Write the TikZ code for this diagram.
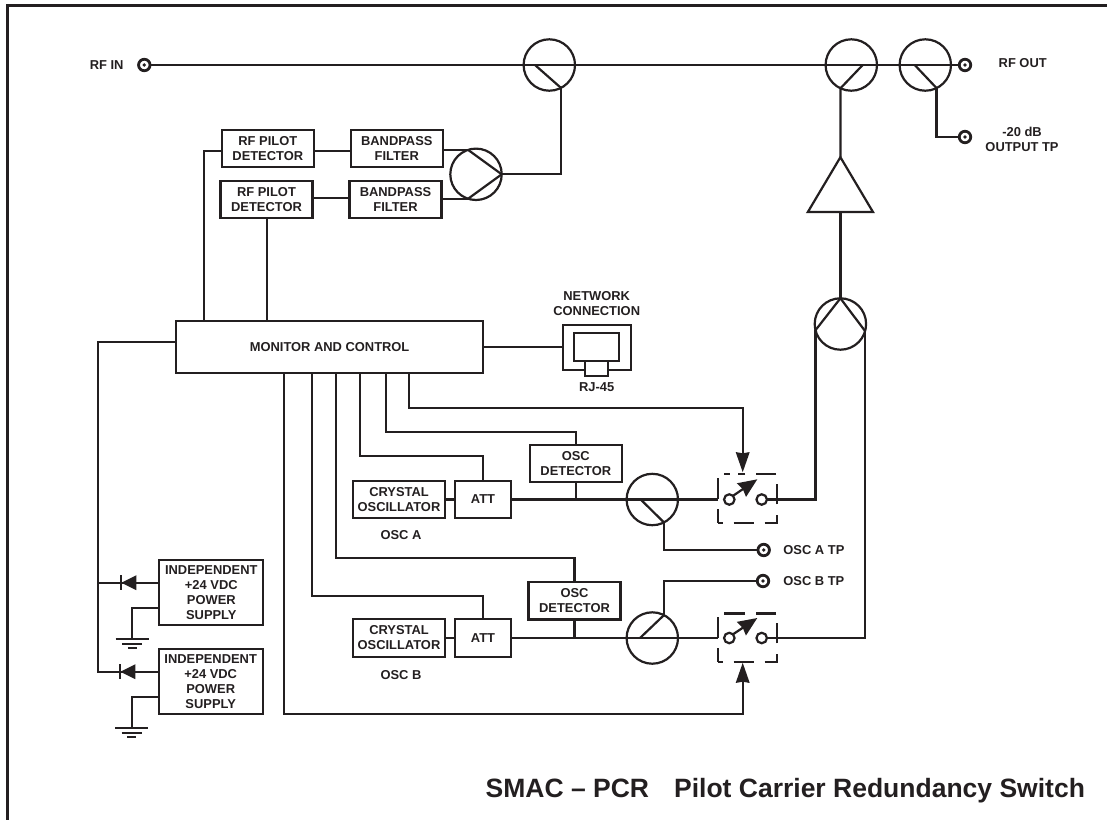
\documentclass[tikz,border=0pt]{standalone}
\usepackage{fontspec}
\setmainfont{Liberation Sans}
\usetikzlibrary{arrows.meta, positioning, shapes.geometric, calc}
\definecolor{smacdark}{RGB}{35, 31, 32}

\begin{document}
\begin{tikzpicture}[x=1pt, y=-1pt, line width=2.2pt, color=smacdark,
        node distance=37pt,
        every node/.style={font=\bfseries\fontsize{12.9}{15}\selectfont, align=center, inner sep=0pt, outer sep=0pt},
        box/.style={draw, minimum width=92pt, minimum height=37.3pt},
        supply/.style={draw, minimum width=104pt, minimum height=65.3pt},
        coupler/.style={draw, circle, minimum size=51.4pt},
        jack/.style={draw, circle, line width=2.8pt, minimum size=11.5pt,
          path picture={\fill (path picture bounding box.center) circle (1.9pt);}},
        terminal/.style={draw, circle, minimum size=10.5pt},
        swbox/.style={draw, minimum width=59.6pt, minimum height=48.4pt, dash pattern=on 20.7pt off 10.4pt, dash phase=15.3pt},
        diode/.style={fill, isosceles triangle, isosceles triangle stretches, shape border rotate=180, minimum width=15pt, minimum height=15pt},
        amp/.style={draw, isosceles triangle, isosceles triangle stretches, shape border rotate=90, minimum width=65pt, minimum height=54.7pt},
        arr/.style={-{Stealth[length=20pt, width=13.5pt, inset=1pt]}},
        swarr/.style={-{Stealth[length=19pt, width=16pt, inset=1.5pt]}}
      ]
        \useasboundingbox (0,0) rectangle (1107,820);
        \draw[line width=3pt] (1107,5.5) -- (7.5,5.5) -- (7.5,820);

        % top line
        \node[jack] (rfin) at (144.3,65) {};
        \node (rfinlbl) at (106.7,65) {RF IN};
        \node[jack] (rfout) at (965,65) {};
        \node (rfoutlbl) at (1022.7,63.5) {RF OUT};
        \node[jack] (tpout) at (965,137) {};
        \node (tpoutlbl) at (1022,139) {-20 dB\\OUTPUT TP};
        \node[coupler] (cplin) at (549.3,65) {};
        \node[coupler] (cplsum) at (851.3,65) {};
        \node[coupler] (cplout) at (925.3,65) {};
        \draw (rfin.east) -- (rfout.west);
        \draw ($(cplin.center)+(-14.3,0)$) -- (cplin.-63);
        \draw ($(cplsum.center)+(11.4,0)$) -- (cplsum.-115);
        \draw ($(cplout.center)+(-10.6,0)$) -- (cplout.-64);
        \draw (cplout.-64) |- (tpout.west);

        % pilot detectors
        \node[coupler] (cplsplit) at (476,174.3) {};
        \node[box] (pilota) at (267.8,148.7) {RF PILOT\\DETECTOR};
        \node[box] (pilotb) at (266.5,199.7) {RF PILOT\\DETECTOR};
        \node[box, right=37pt of pilota] (bpfa) {BANDPASS\\FILTER};
        \node[box, right=37pt of pilotb] (bpfb) {BANDPASS\\FILTER};
        \draw (cplin.-63) |- (cplsplit.east);
        \draw (cplsplit.east) -- (cplsplit.108);
        \draw (cplsplit.east) -- (cplsplit.-108);
        \draw (cplsplit.108) -- (cplsplit.108 -| bpfa.east);
        \draw (cplsplit.-108) -- (cplsplit.-108 -| bpfb.east);
        \draw (bpfa.west |- pilota.east) ++(0,2) -- ($(pilota.east)+(0,2)$);
        \draw (bpfb.west |- pilotb.east) ++(0,-1.4) -- ($(pilotb.east)+(0,-1.4)$);

        % monitor
        \node[draw, minimum width=307.3pt, minimum height=52.6pt] (monitor) at (329.6,347) {MONITOR AND CONTROL};
        \draw ($(pilota.west)+(0,2)$) -| (monitor.north -| 204.3,0);
        \draw (pilotb.south -| 267.3,0) -- (monitor.north -| 267.3,0);
        \foreach \ctlname/\x in {ctla/284, ctlb/312.3, ctlc/336.3, ctld/360, ctle/385.7, ctlf/408.7}
          \coordinate (\ctlname) at (\x,373.3);

        % network port
        \node[draw, minimum width=68pt, minimum height=45pt] (rjout) at (596.7,347.5) {};
        \node[draw, minimum width=44.7pt, minimum height=28pt] (rjin) at (596.7,347.3) {};
        \node[draw, fill=white, minimum width=23.3pt, minimum height=14.4pt] (rjtab) at (596.7,368.5) {};
        \node (netlbl) at (596.7,304) {NETWORK\\CONNECTION};
        \node (rjlbl) at (596.7,386.7) {RJ-45};
        \draw (monitor.east) -- (monitor.east -| rjout.west);

        % output side
        \node[amp] (amp) at (840.4,193.4) {};
        \node[coupler] (cplrx) at (840.4,324) {};
        \draw (cplsum.-115) -- (amp.apex);
        \draw (amp.south) -- (cplrx.north);
        \draw (cplrx.north) -- (cplrx.194);
        \draw (cplrx.north) -- (cplrx.-16);

        % osc a
        \node[box, minimum width=56pt] (atta) at (483,499.5) {ATT};
        \node[box, left=10pt of atta] (crysa) {CRYSTAL\\OSCILLATOR};
        \node (crysalbl) at (401,535) {OSC A};
        \node[box] (deta) at (575.8,463.4) {OSC\\DETECTOR};
        \node[coupler] (cpla) at (652.3,499.5) {};
        \node[swbox] (swa) at (747.5,498.5) {};
        \node[terminal] (swain) at (729.3,499.5) {};
        \node[terminal] (swaout) at (761.7,499.5) {};
        \node[jack] (tpa) at (763.7,550) {};
        \node[right=14pt of tpa] (tpalbl) {OSC A TP};
        \coordinate (swatop) at (742.7,472.3);
        \coordinate (swatip) at (757.3,479.3);
        \draw (crysa) -- (atta);
        \draw (atta.east) -- (atta.east -| swa.west);
        \draw (deta.south) -- (deta.south |- cpla);
        \draw ($(cpla.center)+(-11.6,0)$) -- (cpla.-63);
        \draw (cpla.-63) |- (tpa.west);
        \draw (swaout.east) -| (cplrx.194);
        \draw[swarr] (swain.45) -- (swatip);
        \fill[white] (729.5,472) rectangle (737.5,476.5);
        \draw (ctld) -- ++(0,82.4) -| (atta.north);
        \draw (ctle) -- ++(0,58.4) -| (deta.north);
        \draw[arr] (ctlf) -- ++(0,35) -| (swatop);

        % osc b
        \node[box, minimum width=56pt] (attb) at (483,638) {ATT};
        \node[box, left=10pt of attb] (crysb) {CRYSTAL\\OSCILLATOR};
        \node (crysblbl) at (401,675) {OSC B};
        \node[box] (detb) at (574.5,600.8) {OSC\\DETECTOR};
        \node[coupler] (cplb) at (652.3,638) {};
        \node[swbox] (swb) at (747.5,637.6) {};
        \node[terminal] (swbin) at (729.3,638) {};
        \node[terminal] (swbout) at (761.7,638) {};
        \node[jack] (tpb) at (763,581) {};
        \node[right=14.6pt of tpb] (tpblbl) {OSC B TP};
        \coordinate (swbbot) at (742.7,662.7);
        \coordinate (swbtip) at (757.3,618);
        \draw (crysb) -- (attb);
        \draw (attb.east) -- (attb.east -| swb.west);
        \draw (detb.south) -- (detb.south |- cplb);
        \draw ($(cplb.center)+(-12.3,0)$) -- (cplb.63);
        \draw (cplb.63) |- (tpb.west);
        \draw (swbout.east) -| (cplrx.-16);
        \draw[swarr] (swbin.45) -- (swbtip);
        \draw (ctlb) -- ++(0,222.7) -| (attb.north);
        \draw (ctlc) -- ++(0,184.4) -| (detb.north);
        \draw[arr] (ctla) -- ++(0,340.7) -| (swbbot);

        % power supplies
        \node[supply] (supa) at (211.3,592.4) {INDEPENDENT\\+24 VDC\\POWER\\SUPPLY};
        \node[supply] (supb) at (210.7,681.4) {INDEPENDENT\\+24 VDC\\POWER\\SUPPLY};
        \node[diode] (dioa) at (131.7,582.7) {};
        \node[diode] (diob) at (130.7,671.7) {};
        \coordinate (bustop) at (98.3,342);
        \coordinate (gnda) at (132.3,639.3);
        \coordinate (gndb) at (131.7,728.3);
        \draw (monitor.west |- bustop) -- (bustop) |- (diob.center);
        \draw (bustop |- dioa) -- (dioa.center);
        \draw (dioa.center) -- (dioa.center -| supa.west);
        \draw (diob.center) -- (diob.center -| supb.west);
        \foreach \dio in {dioa, diob}
          \draw (\dio.apex) ++(0,-7.5) -- ++(0,15);
        \draw ($(supa.west)+(0,15.3)$) -| (gnda);
        \draw ($(supb.west)+(0,15.3)$) -| (gndb);
        \foreach \gnd in {gnda, gndb} {
          \draw (\gnd) ++(-16.7,0) -- ++(33.4,0);
          \draw (\gnd) ++(-10,4.6) -- ++(20,0);
          \draw (\gnd) ++(-4.5,9) -- ++(9,0);
        }

        \node[anchor=base east, font=\bfseries\fontsize{26.5}{30}\selectfont] (title) at (1085,797) {SMAC – PCR\hspace{25pt}Pilot Carrier Redundancy Switch};
      \end{tikzpicture}
\end{document}
